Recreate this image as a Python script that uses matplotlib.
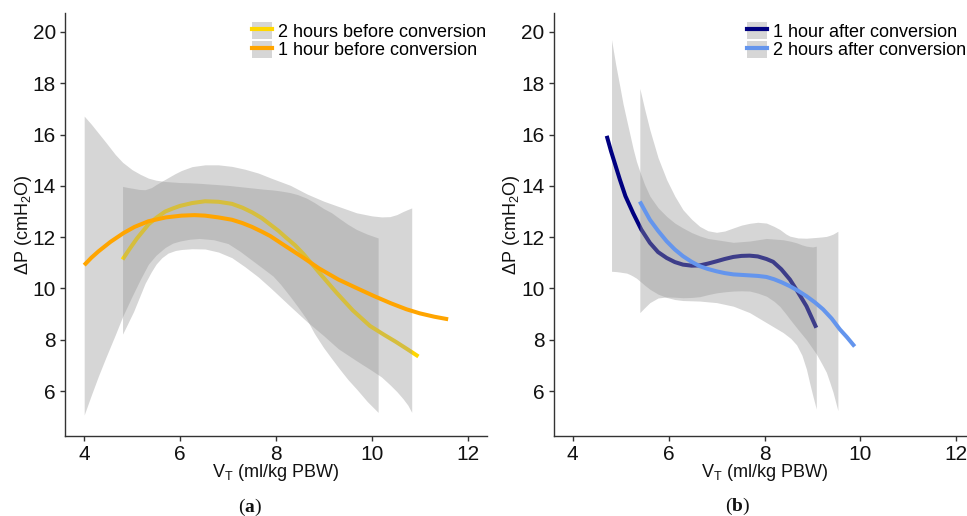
import matplotlib
matplotlib.use("Agg")
import matplotlib.pyplot as plt
from matplotlib.patches import Patch
from matplotlib.lines import Line2D

plt.rcParams['font.family'] = ['Liberation Sans', 'DejaVu Sans']
plt.rcParams['mathtext.fontset'] = 'custom'
plt.rcParams['mathtext.rm'] = 'Liberation Sans'
plt.rcParams['mathtext.it'] = 'Liberation Sans:italic'
plt.rcParams['mathtext.bf'] = 'Liberation Serif:bold'

# ---------------- data: panel (a) ----------------
ribA_x = [4.0, 4.15, 4.3, 4.45, 4.65, 4.8, 5.0, 5.17, 5.34, 5.5, 5.69, 5.85, 6.0, 6.2, 6.4, 6.7,
          7.0, 7.25, 7.5, 7.75, 7.94, 8.1, 8.29, 8.45, 8.64, 8.8, 8.99, 9.16, 9.33, 9.5, 9.68, 9.9, 10.13]
ribA_hi = [16.72, 16.4, 16.05, 15.7, 15.22, 14.92, 14.63, 14.45, 14.3, 14.22, 14.17, 14.15, 14.13, 14.12, 14.1, 14.06,
           14.02, 13.97, 13.92, 13.87, 13.84, 13.8, 13.74, 13.66, 13.52, 13.35, 13.12, 12.95, 12.72, 12.5, 12.3, 12.12, 11.97]
ribA_lo = [5.07, 5.85, 6.6, 7.3, 8.2, 8.9, 9.7, 10.35, 10.95, 11.3, 11.6, 11.77, 11.85, 11.92, 11.95, 11.9,
           11.75, 11.45, 11.1, 10.75, 10.48, 10.15, 9.7, 9.3, 8.8, 8.25, 7.7, 7.27, 6.85, 6.45, 6.08, 5.6, 5.17]

ribB_x = [4.8, 4.9, 5.03, 5.15, 5.27, 5.4, 5.5, 5.62, 5.75, 5.9, 6.03, 6.25, 6.52, 6.8, 7.08, 7.35, 7.63,
          7.9, 8.3, 8.65, 9.0, 9.3, 9.68, 10.0, 10.2, 10.375, 10.52, 10.65, 10.75, 10.83]
ribB_hi = [13.98, 13.94, 13.9, 13.86, 13.85, 13.93, 14.05, 14.18, 14.32, 14.48, 14.6, 14.75, 14.82, 14.82, 14.76, 14.65, 14.5,
           14.3, 14.02, 13.68, 13.4, 13.2, 12.95, 12.83, 12.79, 12.8, 12.88, 13.0, 13.08, 13.14]
ribB_lo = [8.22, 8.6, 9.1, 9.65, 10.2, 10.65, 10.95, 11.2, 11.38, 11.48, 11.52, 11.55, 11.54, 11.42, 11.2, 10.85, 10.45,
           10.0, 9.3, 8.7, 8.15, 7.65, 7.18, 6.8, 6.55, 6.25, 5.98, 5.7, 5.45, 5.17]

before2_x = [4.8, 4.95, 5.1, 5.34, 5.5, 5.69, 5.85, 6.0, 6.25, 6.52, 6.8, 7.08, 7.3, 7.5, 7.7, 7.875,
             8.05, 8.2, 8.4, 8.57, 8.9, 9.26, 9.6, 9.96, 10.25, 10.5, 10.75, 10.97]
before2_y = [11.13, 11.55, 11.95, 12.5, 12.75, 13.0, 13.12, 13.22, 13.33, 13.4, 13.38, 13.3, 13.15, 12.97, 12.75, 12.5,
             12.25, 12.0, 11.68, 11.35, 10.62, 9.84, 9.15, 8.54, 8.2, 7.92, 7.62, 7.35]

before1_x = [4.0, 4.15, 4.3, 4.55, 4.82, 5.05, 5.34, 5.7, 6.03, 6.3, 6.52, 6.8, 7.08, 7.3, 7.5, 7.7, 7.875,
             8.2, 8.57, 8.9, 9.3, 9.7, 10.05, 10.4, 10.72, 11.0, 11.3, 11.59]
before1_y = [10.91, 11.2, 11.45, 11.82, 12.16, 12.4, 12.62, 12.77, 12.84, 12.86, 12.84, 12.77, 12.68, 12.55, 12.4, 12.22, 12.05,
             11.65, 11.2, 10.78, 10.35, 10.0, 9.70, 9.42, 9.19, 9.03, 8.9, 8.8]

# ---------------- data: panel (b) ----------------
ribC_x = [4.81, 4.9, 4.985, 5.05, 5.125, 5.2, 5.26, 5.33, 5.4, 5.5, 5.61, 5.78, 5.96, 6.13, 6.3, 6.48, 6.65, 6.82,
          7.0, 7.35, 7.69, 8.04, 8.39, 8.55, 8.67, 8.78, 8.875, 8.95, 9.01, 9.08]
ribC_hi = [19.70, 18.7, 17.86, 17.2, 16.57, 15.95, 15.45, 14.95, 14.56, 14.05, 13.6, 13.15, 12.81, 12.55, 12.36, 12.18, 12.05, 11.95,
           11.9, 11.8, 11.85, 11.95, 11.9, 11.84, 11.78, 11.7, 11.65, 11.63, 11.62, 11.65]
ribC_lo = [10.67, 10.66, 10.64, 10.62, 10.6, 10.54, 10.48, 10.4, 10.29, 10.13, 9.97, 9.78, 9.65, 9.57, 9.53, 9.52, 9.51, 9.48,
           9.45, 9.31, 9.06, 8.67, 8.28, 8.05, 7.8, 7.4, 6.85, 6.25, 5.8, 5.30]

ribD_x = [5.4, 5.5, 5.61, 5.78, 5.96, 6.13, 6.3, 6.48, 6.65, 6.82, 7.0, 7.17, 7.35, 7.52, 7.69, 7.86, 8.04,
          8.2, 8.32, 8.45, 8.53, 8.7, 8.875, 9.08, 9.2, 9.29, 9.36, 9.43, 9.53]
ribD_hi = [17.8, 17.0, 16.18, 15.1, 14.24, 13.6, 13.07, 12.7, 12.42, 12.25, 12.19, 12.24, 12.36, 12.47, 12.54, 12.58, 12.55,
           12.42, 12.3, 12.12, 12.04, 11.97, 11.96, 11.99, 12.01, 12.03, 12.07, 12.12, 12.23]
ribD_lo = [9.06, 9.25, 9.45, 9.63, 9.67, 9.66, 9.64, 9.65, 9.68, 9.76, 9.83, 9.87, 9.9, 9.91, 9.9, 9.82, 9.70,
           9.5, 9.3, 9.0, 8.8, 8.4, 8.0, 7.45, 7.05, 6.73, 6.35, 5.95, 5.24]

after1_x = [4.71, 4.8, 4.9, 4.985, 5.1, 5.26, 5.43, 5.61, 5.78, 5.96, 6.13, 6.3, 6.48, 6.65, 6.82, 7.0,
            7.17, 7.35, 7.52, 7.69, 7.86, 8.04, 8.18, 8.35, 8.53, 8.7, 8.875, 9.08]
after1_y = [15.95, 15.35, 14.75, 14.24, 13.6, 12.94, 12.3, 11.78, 11.42, 11.19, 11.03, 10.93, 10.89, 10.90, 10.97, 11.06,
            11.15, 11.23, 11.27, 11.28, 11.25, 11.15, 11.04, 10.75, 10.35, 9.85, 9.31, 8.47]

after2_x = [5.40, 5.5, 5.61, 5.78, 5.96, 6.13, 6.3, 6.48, 6.65, 6.82, 7.0, 7.17, 7.35, 7.52, 7.69, 7.86, 8.04,
            8.2, 8.36, 8.53, 8.7, 8.875, 9.05, 9.22, 9.4, 9.57, 9.72, 9.88]
after2_y = [13.39, 13.05, 12.68, 12.25, 11.84, 11.52, 11.26, 11.04, 10.87, 10.76, 10.67, 10.6, 10.55, 10.53, 10.51, 10.49, 10.45,
            10.36, 10.24, 10.09, 9.91, 9.70, 9.46, 9.19, 8.83, 8.41, 8.1, 7.74]

labels_a = ["2 hours before conversion", "1 hour before conversion"]
labels_b = ["1 hour after conversion", "2 hours after conversion"]
xticks = [4, 6, 8, 10, 12]
yticks = [6, 8, 10, 12, 14, 16, 18, 20]

GOLD = '#FFD700'
ORANGE = '#FFA500'
NAVY = '#000080'
LBLUE = '#6495ED'
RIB = '#999999'
RIB_A = 0.4
SPINE = '#333333'

W, H = 967, 516
fig = plt.figure(figsize=(W / 100, H / 100), dpi=100)

ax_w = 422 / W
ax_h = 423.3 / H
ax_b = (H - 436) / H
axa = fig.add_axes([65 / W, ax_b, ax_w, ax_h])
axb = fig.add_axes([553.5 / W, ax_b, ax_w, ax_h])

LW = 2.9
# panel a
axa.fill_between(ribA_x, ribA_lo, ribA_hi, color=RIB, alpha=RIB_A, lw=0, zorder=1)
axa.plot(before2_x, before2_y, color=GOLD, lw=LW, solid_capstyle='butt', zorder=2)
axa.fill_between(ribB_x, ribB_lo, ribB_hi, color=RIB, alpha=RIB_A, lw=0, zorder=3)
axa.plot(before1_x, before1_y, color=ORANGE, lw=LW, solid_capstyle='butt', zorder=4)
# panel b
axb.fill_between(ribC_x, ribC_lo, ribC_hi, color=RIB, alpha=RIB_A, lw=0, zorder=1)
axb.plot(after1_x, after1_y, color=NAVY, lw=LW, solid_capstyle='butt', zorder=2)
axb.fill_between(ribD_x, ribD_lo, ribD_hi, color=RIB, alpha=RIB_A, lw=0, zorder=3)
axb.plot(after2_x, after2_y, color=LBLUE, lw=LW, solid_capstyle='butt', zorder=4)

for ax in (axa, axb):
    ax.set_xlim(3.6, 12.4)
    ax.set_ylim(4.25, 20.75)
    ax.set_xticks(xticks)
    ax.set_yticks(yticks)
    for s in ('top', 'right'):
        ax.spines[s].set_visible(False)
    for s in ('left', 'bottom'):
        ax.spines[s].set_color(SPINE)
        ax.spines[s].set_linewidth(1.0)
    ax.tick_params(direction='out', length=3.5, width=1.0, color=SPINE,
                   labelsize=15, labelcolor='#111111', pad=3)
    ax.set_xlabel(r'V$_\mathrm{T}$ (ml/kg PBW)', fontsize=13, color='#111111')
    ax.set_ylabel(r'ΔP (cmH$_\mathrm{2}$O)', fontsize=13, color='#111111')
    ax.xaxis.set_label_coords(0.5, -0.087)
    ax.yaxis.set_label_coords(-0.0995, 0.5)
    ax.xaxis.label.set_va('center')
    ax.yaxis.label.set_va('center')

def leg(ax, x0, labels, colors):
    handles = [(Patch(facecolor=RIB, alpha=RIB_A, edgecolor='none'),
                Line2D([], [], color=c, lw=3.0)) for c in colors]
    ax.legend(handles, labels, loc='upper left',
              bbox_to_anchor=(x0 / W, 1 - 21.7 / H), bbox_transform=fig.transFigure,
              frameon=False, fontsize=13, handlelength=1.1, handleheight=1.1,
              labelspacing=0, handletextpad=0.35, borderpad=0, borderaxespad=0)

leg(axa, 251.7, labels_a, [GOLD, ORANGE])
leg(axb, 746.7, labels_b, [NAVY, LBLUE])

fig.text(250 / W, 1 - 507 / H, r'($\mathbf{a}$)', family='Liberation Serif',
         fontsize=14, ha='center', va='center', color='#111111')
fig.text(738 / W, 1 - 506 / H, r'($\mathbf{b}$)', family='Liberation Serif',
         fontsize=14, ha='center', va='center', color='#111111')

fig.savefig('out.png', dpi=100)
